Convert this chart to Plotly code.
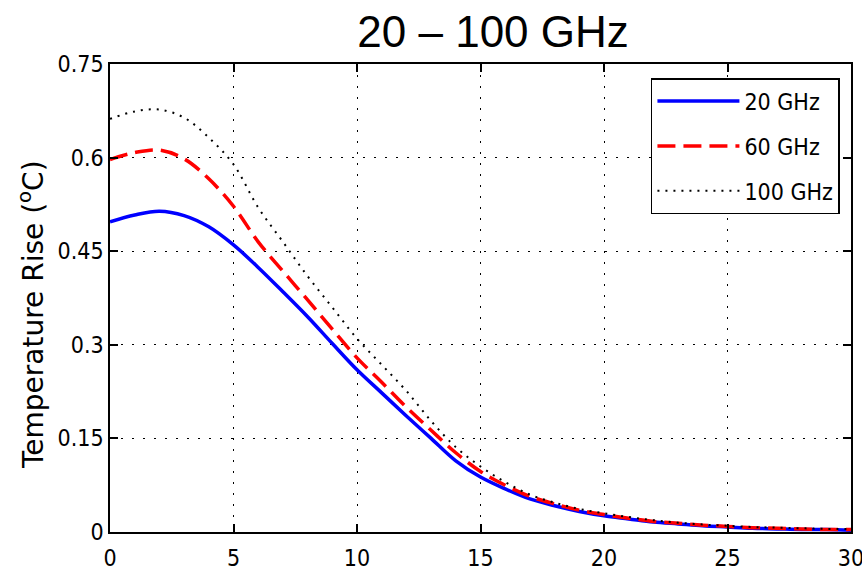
import plotly.graph_objects as go

x_vals = [0, 1, 2, 3, 4, 5, 6, 7, 8, 9, 10, 11, 12, 13, 14, 15, 16, 17, 18, 19, 20,
          21, 22, 23, 24, 25, 26, 27, 28, 29, 30]
ghz20 = [0.497, 0.508, 0.514, 0.507, 0.489, 0.460, 0.424, 0.385, 0.345, 0.302, 0.260,
         0.223, 0.186, 0.150, 0.114, 0.088, 0.069, 0.053, 0.042, 0.033, 0.026,
         0.021, 0.016, 0.013, 0.010, 0.008, 0.006, 0.005, 0.004, 0.004, 0.003]
ghz60 = [0.597, 0.608, 0.612, 0.598, 0.566, 0.522, 0.465, 0.418, 0.372, 0.325, 0.279,
         0.240, 0.200, 0.163, 0.127, 0.097, 0.075, 0.057, 0.045, 0.035, 0.028,
         0.022, 0.017, 0.014, 0.011, 0.009, 0.007, 0.006, 0.005, 0.004, 0.004]
ghz100 = [0.662, 0.674, 0.677, 0.664, 0.632, 0.589, 0.520, 0.465, 0.410, 0.360, 0.310,
          0.268, 0.226, 0.178, 0.136, 0.105, 0.080, 0.060, 0.047, 0.037, 0.030,
          0.024, 0.019, 0.015, 0.012, 0.010, 0.008, 0.007, 0.006, 0.005, 0.005]
series_names = ["20 GHz", "60 GHz", "100 GHz"]
x_ticks = [0, 5, 10, 15, 20, 25, 30]
y_ticks = [0, 0.15, 0.3, 0.45, 0.6, 0.75]
y_tick_labels = ["0", "0.15", "0.3", "0.45", "0.6", "0.75"]
y_title = "Temperature Rise (<sup>o</sup>C)"
chart_title = "20 \u2013 100 GHz"

FONT = "DejaVu Sans Condensed, Liberation Sans, Arial"

fig = go.Figure()
fig.add_trace(go.Scatter(x=x_vals, y=ghz20, name=series_names[0], mode="lines",
                         legendgroup="a",
                         line=dict(color="#0000ff", width=3.5, shape="spline")))
fig.add_trace(go.Scatter(x=x_vals, y=ghz60, name=series_names[1], mode="lines",
                         legendgroup="b",
                         line=dict(color="#ff0000", width=3.5, dash="18px,8px", shape="spline")))
fig.add_trace(go.Scatter(x=x_vals, y=ghz100, name=series_names[2], mode="lines",
                         legendgroup="c",
                         line=dict(color="#000000", width=2, dash="2px,6px", shape="spline")))

axis_common = dict(
    showline=True, linecolor="black", linewidth=1.5, mirror="ticks",
    ticks="inside", ticklen=8, tickwidth=1.5, tickcolor="black",
    showgrid=True, gridcolor="black", gridwidth=1, griddash="2px,9px",
    zeroline=False, automargin=False,
    tickfont=dict(family=FONT, size=23, color="black"),
)

fig.update_layout(
    width=862, height=572,
    margin=dict(l=110, r=11, t=64, b=40),
    paper_bgcolor="white", plot_bgcolor="white",
    title=dict(text=chart_title, x=0.572, xanchor="center", y=0.945, yanchor="middle",
               font=dict(family="Liberation Sans, Arial", size=44, color="black")),
    xaxis=dict(range=[0, 30], tickvals=x_ticks, ticklabeloverflow="allow",
               ticklabelstandoff=5, **axis_common),
    yaxis=dict(range=[0, 0.75], tickvals=y_ticks, ticktext=y_tick_labels, **axis_common),
    legend=dict(x=0.73, y=0.97, xanchor="left", yanchor="top",
                bgcolor="white", bordercolor="black", borderwidth=1.5,
                font=dict(family=FONT, size=23, color="black"),
                itemwidth=82, traceorder="grouped", tracegroupgap=12),
    showlegend=True,
)

fig.add_annotation(text=y_title, textangle=-90, xref="paper", yref="paper",
                   x=-0.105, y=0.464, xanchor="center", yanchor="middle", showarrow=False,
                   font=dict(family="DejaVu Sans, Arial", size=28, color="black"))

fig.write_html("out.html")
